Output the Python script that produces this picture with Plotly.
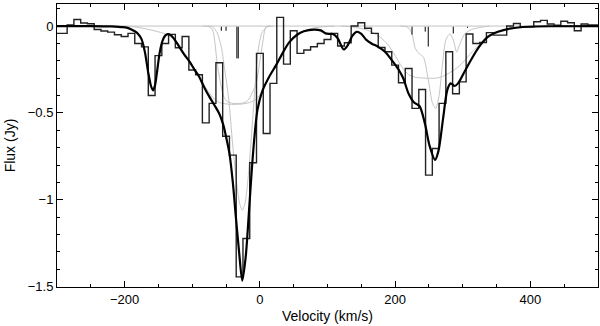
import plotly.graph_objects as go

# binned spectrum: 10 km/s channels
vel_bins = [-300, -290, -280, -270, -260, -250, -240, -230, -220, -210,
            -200, -190, -180, -170, -160, -150, -140, -130, -120, -110,
            -100, -90, -80, -70, -60, -50, -40, -30, -20, -10,
            0, 10, 20, 30, 40, 50, 60, 70, 80, 90,
            100, 110, 120, 130, 140, 150, 160, 170, 180, 190,
            200, 210, 220, 230, 240, 250, 260, 270, 280, 290,
            300, 310, 320, 330, 340, 350, 360, 370, 380, 390,
            400, 410, 420, 430, 440, 450, 460, 470, 480, 490, 500]
flux_bins = [-0.042, -0.042, 0.006, 0.038, 0.018, 0.013, -0.020, -0.028, -0.035, -0.050,
             -0.060, -0.042, -0.100, -0.120, -0.400, -0.170, -0.100, -0.048, -0.125, -0.060,
             -0.253, -0.280, -0.557, -0.445, -0.211, -0.634, -0.743, -1.444, -1.223, -0.787,
             -0.157, -0.618, -0.330, 0.050, -0.219, -0.027, -0.157, -0.138, -0.119, -0.100,
             -0.077, -0.042, -0.115, -0.096, 0.000, 0.019, -0.013, -0.042, -0.123, -0.148,
             -0.225, -0.326, -0.244, -0.474, -0.365, -0.858, -0.705, -0.445, -0.148, -0.390,
             -0.321, -0.046, -0.100, -0.095, -0.038, -0.052, -0.052, 0.000, 0.015, -0.004,
             -0.004, 0.025, 0.033, 0.012, 0.005, 0.028, 0.019, -0.027, 0.012, 0.006, 0.006]

# total model fit
vel_model = [-300, -250, -220, -205, -197, -190, -185, -180, -175, -170,
             -165, -161, -158, -155, -152, -148, -144, -140, -136, -132,
             -128, -121, -112, -104, -96, -90, -82, -75, -68, -60,
             -54, -50, -45, -40, -35.5, -30.5, -26, -21, -16, -12,
             -8, -3.5, 4, 14, 24, 33, 43, 55, 65, 80,
             90, 97, 104, 108, 115, 124, 130, 137, 143, 150,
             157, 165, 175, 185, 195, 205, 212, 220, 228, 236,
             244, 251, 259, 264, 271, 277, 282, 288, 293, 303,
             313, 323, 337, 352, 372, 397, 430, 500]
flux_model = [0.0, 0.0, -0.002, -0.006, -0.009, -0.020, -0.030, -0.045, -0.075, -0.150,
              -0.270, -0.345, -0.370, -0.340, -0.260, -0.150, -0.085, -0.055, -0.046, -0.052,
              -0.068, -0.108, -0.163, -0.205, -0.255, -0.290, -0.355, -0.405, -0.450, -0.505,
              -0.570, -0.637, -0.733, -0.900, -1.100, -1.310, -1.465, -1.330, -1.060, -0.830,
              -0.637, -0.480, -0.370, -0.290, -0.225, -0.160, -0.095, -0.050, -0.030, -0.020,
              -0.025, -0.042, -0.045, -0.046, -0.070, -0.135, -0.110, -0.055, -0.033, -0.045,
              -0.078, -0.100, -0.120, -0.148, -0.196, -0.250, -0.300, -0.390, -0.440, -0.460,
              -0.560, -0.690, -0.770, -0.720, -0.530, -0.370, -0.330, -0.345, -0.330, -0.260,
              -0.190, -0.125, -0.062, -0.033, -0.013, -0.004, -0.001, 0.0]

# individual components (grey), only where they depart from the continuum
vel_comp_a = [-215, -200, -185, -170, -155, -140, -130, -120, -110, -100, -90, -80, -70, -60,
              -45, -30, -15, -5, 4, 14, 24, 33, 43, 55, 70, 90, 110]
flux_comp_a = [0.0, -0.001, -0.005, -0.015, -0.028, -0.045, -0.065, -0.105, -0.170, -0.225,
               -0.290, -0.355, -0.410, -0.440, -0.450, -0.450, -0.440, -0.420, -0.370, -0.290,
               -0.225, -0.160, -0.095, -0.050, -0.020, -0.005, 0.0]

vel_comp_b = [-85, -76, -70, -62.5, -57, -53, -48, -40, -30, -22, -16, -11, -6, 0, 4, 9, 15]
flux_comp_b = [0.0, -0.003, -0.023, -0.234, -0.350, -0.410, -0.435, -0.445, -0.445, -0.440,
               -0.420, -0.380, -0.340, -0.200, -0.100, -0.005, 0.0]

vel_comp_c = [-78, -70, -63, -57, -52.6, -46, -40.4, -35, -30, -26, -22, -18, -13.3, -9, -5,
              -1, 4, 12, 20]
flux_comp_c = [0.0, -0.005, -0.040, -0.120, -0.234, -0.420, -0.676, -0.880, -1.020, -1.060,
               -1.020, -0.900, -0.676, -0.450, -0.234, -0.100, -0.030, -0.003, 0.0]

vel_comp_d = [208, 215, 220, 225, 230, 236, 242, 249, 255, 260, 265, 270, 275, 281, 286, 291,
              296, 303, 313, 325, 340]
flux_comp_d = [0.0, -0.002, -0.010, -0.045, -0.130, -0.160, -0.180, -0.310, -0.440, -0.475,
               -0.400, -0.220, -0.080, -0.045, -0.080, -0.150, -0.100, -0.045, -0.020, -0.008,
               0.0]

vel_comp_e = [120, 130, 145, 160, 176, 190, 200, 210, 220, 230, 245, 260, 270, 280, 290, 300,
              310, 320, 330, 340, 355, 375, 400, 430, 450]
flux_comp_e = [0.0, -0.002, -0.010, -0.025, -0.058, -0.110, -0.170, -0.235, -0.280, -0.295,
               -0.300, -0.300, -0.290, -0.270, -0.245, -0.210, -0.165, -0.125, -0.090, -0.060,
               -0.030, -0.012, -0.003, 0.0, 0.0]

# continuum level shared by the components
vel_cont = [-300, 500]
flux_cont = [0.0, 0.0]

# component position markers
vel_marks = [-57, -50, -34, -32, 225, 244.5, 249, 286, 307]
depth_marks = [-0.027, -0.027, -0.186, -0.186, -0.049, -0.032, -0.118, -0.043, -0.010]
mark_top = -0.004

GREY = '#c4c4c4'

fig = go.Figure()

fig.add_trace(go.Scatter(x=vel_cont, y=flux_cont, mode='lines',
                         line=dict(color=GREY, width=1), hoverinfo='skip'))

comps = [(vel_comp_a, flux_comp_a), (vel_comp_b, flux_comp_b), (vel_comp_c, flux_comp_c),
         (vel_comp_d, flux_comp_d), (vel_comp_e, flux_comp_e)]
for vx, fy in comps:
    fig.add_trace(go.Scatter(
        x=vx, y=fy, mode='lines',
        line=dict(color=GREY, width=1, shape='spline', smoothing=0.7),
        hoverinfo='skip'
    ))

mx, my = [], []
for v, d in zip(vel_marks, depth_marks):
    mx += [v, v, None]
    my += [mark_top, d, None]
fig.add_trace(go.Scatter(x=mx, y=my, mode='lines', line=dict(color='black', width=1),
                         hoverinfo='skip'))

fig.add_trace(go.Scatter(
    x=vel_bins, y=flux_bins, mode='lines',
    line=dict(color='#222222', width=1.4, shape='hvh'),
    name='data'
))

fig.add_trace(go.Scatter(
    x=vel_model, y=flux_model, mode='lines',
    line=dict(color='black', width=2.2, shape='spline', smoothing=0.8),
    name='model'
))

axis_style = dict(
    showline=True, linecolor='black', linewidth=1, mirror='allticks',
    ticks='inside', ticklen=6, tickwidth=1, tickcolor='black',
    showgrid=False, zeroline=False, automargin=False,
    tickfont=dict(size=13, color='black'),
)

fig.update_layout(
    width=600, height=326,
    margin=dict(l=57, r=2, t=4, b=39),
    plot_bgcolor='white', paper_bgcolor='white',
    showlegend=False,
    font=dict(family='Liberation Sans, Arial, sans-serif', size=13, color='black'),
    xaxis=dict(axis_style, range=[-300, 500], tick0=0, dtick=200,
               minor=dict(dtick=50, ticks='inside', ticklen=3, tickcolor='black'),
               title=dict(text='Velocity (km/s)', standoff=5, font=dict(size=14))),
    yaxis=dict(axis_style, range=[-1.502, 0.127], tick0=0, dtick=0.5,
               minor=dict(dtick=0.1, ticks='inside', ticklen=3, tickcolor='black'),
               title=dict(text='Flux (Jy)', standoff=8, font=dict(size=14))),
)

# the page body carries a default 8px margin; drop it so the figure fills the window
fig.write_html("out.html", config={'displayModeBar': False},
               post_script="document.body.style.margin='0';")
